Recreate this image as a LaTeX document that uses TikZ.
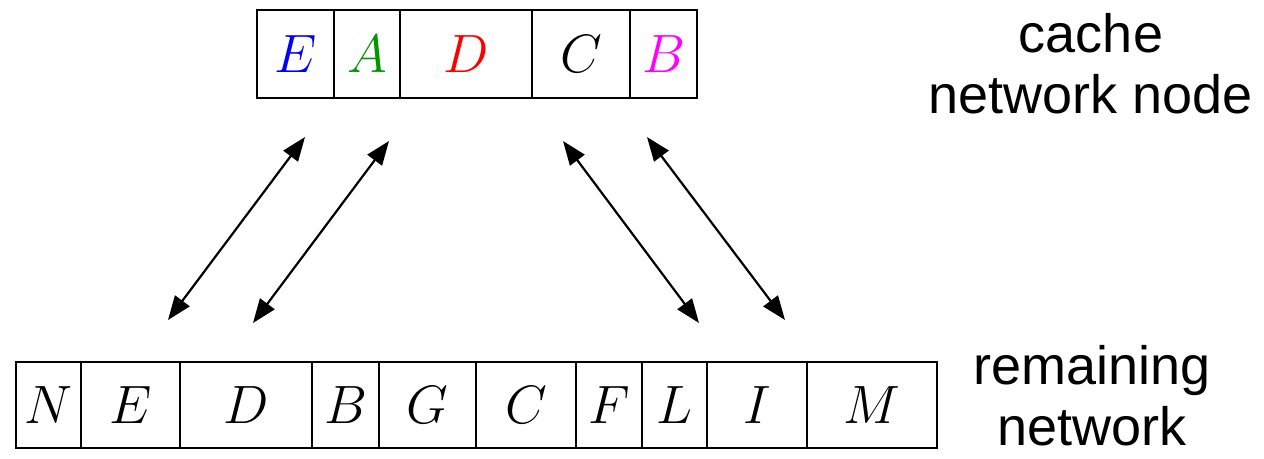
\RequirePackage{fix-cm}
\documentclass[tikz,border=0pt]{standalone}
\usepackage{fontspec}
\newfontfamily\labelfont{Liberation Sans}
\usepackage{tikz}
\usetikzlibrary{arrows.meta,positioning}
\definecolor{itemgreen}{RGB}{0,150,0}
\definecolor{itempink}{RGB}{255,0,255}

\begin{document}
\begin{tikzpicture}[
  x=1pt, y=-1pt,
  cell/.style={draw, line width=2.6pt, inner sep=0pt, outer sep=0pt,
    minimum height=88pt, font=\fontsize{54}{61}\selectfont},
  lowcell/.style={cell, minimum height=86pt},
  link/.style={{Triangle[length=24pt,width=18pt]}-{Triangle[length=24pt,width=18pt]},
    line width=2.2pt},
  lbl/.style={font=\labelfont\fontsize{54}{61}\selectfont, inner sep=0pt,
    align=center, anchor=base}
]
  \useasboundingbox (0,0) rectangle (1264,458);

  % ── Cache row ──
  \node[cell, minimum width=77pt, anchor=north west] (cE) at (257,10) {$\color{blue}E$};
  \node[cell, minimum width=66pt, right=0pt of cE] (cA) {$\color{itemgreen}A$};
  \node[cell, minimum width=132pt, right=0pt of cA] (cD) {$\color{red}D$};
  \node[cell, minimum width=98pt, right=0pt of cD] (cC) {$C$};
  \node[cell, minimum width=67pt, right=0pt of cC] (cB) {$\color{itempink}B$};

  % ── Remaining network row ──
  \node[lowcell, minimum width=65pt, anchor=north west] (rN) at (16,362) {$N$};
  \node[lowcell, minimum width=99pt, right=0pt of rN] (rE) {$E$};
  \node[lowcell, minimum width=132pt, right=0pt of rE] (rD) {$D$};
  \node[lowcell, minimum width=67pt, right=0pt of rD] (rB) {$B$};
  \node[lowcell, minimum width=97pt, right=0pt of rB] (rG) {$G$};
  \node[lowcell, minimum width=100pt, right=0pt of rG] (rC) {$C$};
  \node[lowcell, minimum width=66pt, right=0pt of rC] (rF) {$F$};
  \node[lowcell, minimum width=65pt, right=0pt of rF] (rL) {$L$};
  \node[lowcell, minimum width=100pt, right=0pt of rL] (rI) {$I$};
  \node[lowcell, minimum width=130pt, right=0pt of rI] (rM) {$M$};

  % labels (base = last line)
  \node[lbl] (cachelbl) at (1091,113) {cache\\network node};
  \node[lbl] (restlbl) at (1092,445) {remaining\\network};

  % ── Exchanges ──
  \coordinate (up1) at (305,137);
  \coordinate (lo1) at (168,320);
  \coordinate (up2) at (389,141);
  \coordinate (lo2) at (253,323);
  \coordinate (up3) at (563,141);
  \coordinate (lo3) at (699,323);
  \coordinate (up4) at (647,137);
  \coordinate (lo4) at (785,320);
  \foreach \i in {1,...,4} {
    \draw[link] (lo\i) -- (up\i);
  }
\end{tikzpicture}
\end{document}
